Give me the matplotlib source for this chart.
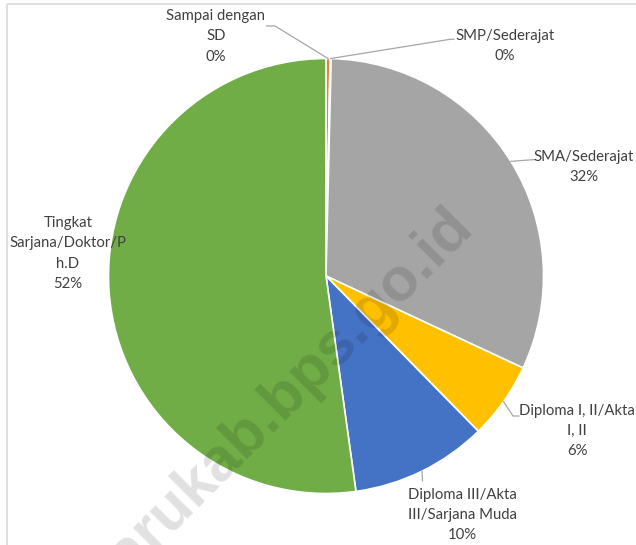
import numpy as np
import matplotlib
matplotlib.use("Agg")
import matplotlib.pyplot as plt

# ---- data ----
categories = ["Sampai dengan\nSD", "SMP/Sederajat", "SMA/Sederajat",
              "Diploma I, II/Akta\nI, II", "Diploma III/Akta\nIII/Sarjana Muda",
              "Tingkat\nSarjana/Doktor/P\nh.D"]
values = [0.30, 0.08, 31.57, 5.70, 10.15, 52.20]
pct_labels = ["0%", "0%", "32%", "6%", "10%", "52%"]
colors = ["#ED7D31", "#5B9BD5", "#A5A5A5", "#FFC000", "#4472C4", "#70AD47"]

W, H = 636, 545
fig = plt.figure(figsize=(W / 100, H / 100), dpi=100)
ax = fig.add_axes([0, 0, 1, 1])

def Y(y):  # image row -> data y
    return H - y

cx, cy, R = 326.0, 276.0, 217.5
wedges, _ = ax.pie(values, colors=colors, startangle=90, counterclock=False,
                   center=(cx, Y(cy)), radius=R,
                   wedgeprops=dict(edgecolor="white", linewidth=1.2))
ax.set_xlim(0, W)
ax.set_ylim(0, H)
ax.set_aspect("equal")
ax.axis("off")

# chart border (top and left visible)
ax.plot([6.5, 6.5], [-10, Y(4)], color="#D9D9D9", lw=1.2, solid_capstyle="butt")
ax.plot([6.5, W + 10], [Y(4), Y(4)], color="#D9D9D9", lw=1.2, solid_capstyle="butt")

def mid_point(w):
    a = np.deg2rad((w.theta1 + w.theta2) / 2)
    return cx + R * np.cos(a), Y(cy) + R * np.sin(a)

font = ["Lato", "DejaVu Sans"]
tcol = "#404040"
fs = 10.7

# label layout: (text center x, text center y (image), leader elbow points (image))
layout = [
    (216, 36.5, [(275, 26), (266.5, 26)]),
    (505, 46, [(450, 39.3), (454, 39.3)]),
    (584, 167, [(535, 159.5)]),
    (577, 431, [(513, 416), (519, 416)]),
    (462, 515, [(422.5, 481)]),
    (68, 253.5, None),
]

for w, cat, pct, (tx, ty, elbow) in zip(wedges, categories, pct_labels, layout):
    ax.text(tx, Y(ty), cat + "\n" + pct, ha="center", va="center",
            fontsize=fs, family=font, color=tcol, linespacing=1.57, zorder=5)
    if elbow:
        sx, sy = mid_point(w)
        xs = [sx] + [p[0] for p in elbow]
        ys = [sy] + [Y(p[1]) for p in elbow]
        ax.plot(xs, ys, color="#A6A6A6", lw=0.9, zorder=4)

# watermark
ax.text(475, Y(228), "kotabarukab.bps.go.id", rotation=45, rotation_mode="anchor",
        ha="right", va="baseline", fontsize=44, fontweight="bold",
        family=["Liberation Sans", "DejaVu Sans"], color="black", alpha=0.12, zorder=6)

fig.savefig("out.png", dpi=100, facecolor="white")
